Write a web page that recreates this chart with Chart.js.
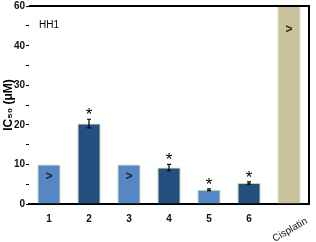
<!DOCTYPE html>
<html>
<head>
<meta charset="utf-8">
<script src="https://cdn.jsdelivr.net/npm/chart.js@4.4.1/dist/chart.umd.min.js"></script>
<style>
    body { margin: 0; background: #fff; }
    #wrap { width: 316px; height: 242px; position: relative; }
    .ylab {
        position: absolute;
        width: 24px;
        text-align: right;
        font: bold 10px "Liberation Sans", Arial, sans-serif;
        line-height: 10px;
        color: #111;
    }
</style>
</head>
<body>
<div id="wrap"><canvas id="icChart" width="316" height="242"></canvas></div>
<script>
// data
const categories = ['1', '2', '3', '4', '5', '6', 'Cisplatin'];
const icValues = [10, 20.3, 10, 9.2, 3.6, 5.3, 50];
const icErrors = [0, 1.1, 0, 0.8, 0.2, 0.3, 0];
const significant = [false, true, false, true, true, true, false];
const greaterThan = [true, false, true, false, false, false, true];
const barColors = ['#5587c4', '#24507f', '#5587c4', '#24507f', '#5587c4', '#24507f', '#c8c29d'];
const yTickValues = [0, 5, 10, 15, 20, 25, 30, 35, 40, 45, 50];
const yTickText = ['0', '', '10', '', '20', '', '30', '', '40', '', '60'];
const yTitle = 'IC₅₀ (μM)';
const cellLine = 'HH1';

const labelFont = { family: 'Liberation Sans', size: 10, weight: 'bold' };

const markPlugin = {
    id: 'marks',
    afterDraw(chart) {
        const ctx = chart.ctx;
        const x = chart.scales.x;
        const y = chart.scales.y;
        const area = chart.chartArea;
        const bars = chart.getDatasetMeta(0).data;

        // y title
        ctx.save();
        ctx.translate(9, (area.top + area.bottom) / 2);
        ctx.rotate(-Math.PI / 2);
        ctx.font = 'bold 12px "Liberation Sans"';
        ctx.textAlign = 'center';
        ctx.textBaseline = 'middle';
        ctx.fillStyle = '#000';
        ctx.fillText(yTitle, 0, 0);
        ctx.restore();

        ctx.save();
        // frame top + right
        ctx.strokeStyle = '#000';
        ctx.lineWidth = 2;
        ctx.beginPath();
        ctx.moveTo(area.left, area.top);
        ctx.lineTo(area.right, area.top);
        ctx.lineTo(area.right, area.bottom);
        ctx.stroke();

        // error bars + stars
        ctx.lineWidth = 1.2;
        icValues.forEach(function (v, i) {
            const cx = bars[i].x;
            if (icErrors[i] > 0) {
                const yt = y.getPixelForValue(v + icErrors[i]);
                const yb = y.getPixelForValue(v - icErrors[i]);
                ctx.beginPath();
                ctx.moveTo(cx, yt); ctx.lineTo(cx, yb);
                ctx.moveTo(cx - 2, yt); ctx.lineTo(cx + 2, yt);
                ctx.moveTo(cx - 2, yb); ctx.lineTo(cx + 2, yb);
                ctx.stroke();
            }
            if (significant[i]) {
                const ys = y.getPixelForValue(v + icErrors[i]) - 8;
                ctx.fillStyle = '#000';
                ctx.font = '17px "Liberation Sans"';
                ctx.textAlign = 'center';
                ctx.textBaseline = 'middle';
                ctx.fillText('*', cx, ys + 4);
            }
            if (greaterThan[i]) {
                const off = v >= 50 ? 24 : 12;
                ctx.fillStyle = '#222';
                ctx.font = 'bold 12px "Liberation Sans"';
                ctx.textAlign = 'center';
                ctx.textBaseline = 'middle';
                ctx.fillText('>', cx, y.getPixelForValue(v) + off);
            }
        });

        // cell line tag
        ctx.fillStyle = '#000';
        ctx.font = '10px "Liberation Sans"';
        ctx.textAlign = 'left';
        ctx.textBaseline = 'middle';
        ctx.fillText(cellLine, area.left + 10, 25);

        // rotated last category label
        const last = categories.length - 1;
        ctx.translate(x.getPixelForValue(last) + 1, 230);
        ctx.rotate(-30 * Math.PI / 180);
        ctx.font = '10px "Liberation Sans"';
        ctx.textAlign = 'center';
        ctx.fillStyle = '#111';
        ctx.fillText(categories[last], 0, 0);
        ctx.restore();
    }
};

const chart = new Chart(document.getElementById('icChart'), {
    type: 'bar',
    data: {
        labels: categories,
        datasets: [{
            data: icValues,
            backgroundColor: barColors,
            borderColor: '#c4d79b',
            borderWidth: { left: 1, right: 1, top: 1, bottom: 0 },
            borderSkipped: 'bottom',
            categoryPercentage: 1,
            barPercentage: 0.58
        }]
    },
    options: {
        responsive: false,
        animation: false,
        layout: { padding: { top: 6, right: 7, left: 0, bottom: 0 } },
        plugins: { legend: { display: false }, tooltip: { enabled: false } },
        scales: {
            x: {
                grid: { display: false, drawTicks: false },
                border: { display: true, color: '#000', width: 2 },
                ticks: {
                    color: '#111',
                    font: labelFont,
                    padding: 9,
                    maxRotation: 0,
                    autoSkip: false,
                    callback: function (val, i) {
                        return i === categories.length - 1 ? '' : categories[i];
                    }
                },
                afterFit: function (scale) { scale.height = 38; }
            },
            y: {
                min: 0,
                max: 50,
                afterBuildTicks: function (scale) {
                    scale.ticks = yTickValues.map(v => ({ value: v }));
                },
                grid: { drawOnChartArea: false, drawTicks: true, tickLength: 3, color: '#000' },
                border: { display: false },
                ticks: { display: false },
                afterFit: function (scale) { scale.width = 29; }
            }
        }
    },
    plugins: [markPlugin]
});

// y tick labels as page text, placed with the y scale
const wrap = document.getElementById('wrap');
yTickValues.forEach(function (v, i) {
    if (!yTickText[i]) return;
    const el = document.createElement('div');
    el.className = 'ylab';
    el.textContent = yTickText[i];
    el.style.left = '1px';
    el.style.top = (Math.round(chart.scales.y.getPixelForValue(v)) - 5) + 'px';
    wrap.appendChild(el);
});
</script>
</body>
</html>
